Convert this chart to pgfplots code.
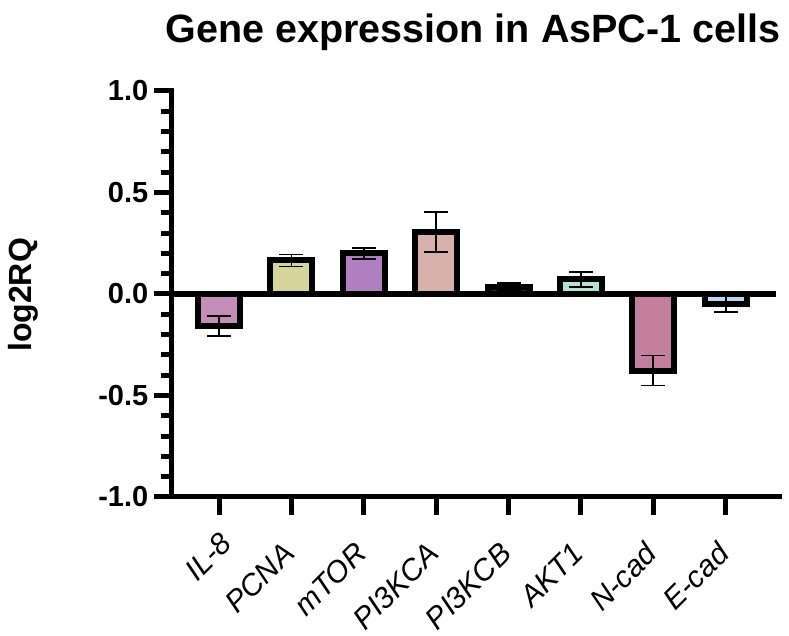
\documentclass[border=0pt]{standalone}
\usepackage{pgfplots}
\pgfplotsset{compat=1.18}
\usepackage{fontspec}
\setmainfont{Liberation Sans}
\definecolor{cIL}{RGB}{196,140,185}
\definecolor{cPCNA}{RGB}{213,213,155}
\definecolor{cmTOR}{RGB}{176,127,192}
\definecolor{cPIA}{RGB}{216,176,172}
\definecolor{cPIB}{RGB}{40,40,40}
\definecolor{cAKT}{RGB}{180,228,208}
\definecolor{cN}{RGB}{196,126,158}
\definecolor{cE}{RGB}{190,215,240}
\begin{document}
\begin{tikzpicture}[x=1pt,y=1pt]
\useasboundingbox (0,0) rectangle (789,636);
\begin{axis}[
  at={(171pt,139pt)}, anchor=south west,
  scale only axis, width=608pt, height=406pt,
  xmin=-0.663, xmax=7.735, ymin=-1, ymax=1,
  clip=false,
  axis x line=bottom, axis y line=left,
  axis line style={-, line width=5pt, line cap=rect},
  tick align=outside,
  tick style={line width=5pt, black},
  xtick={0,...,7},
  xticklabels={IL-8\kern-14pt,PCNA,mTOR,PI3KCA,PI3KCB,AKT1,N-cad,E-cad},
  major tick length=17.5pt,
  minor y tick num=4,
  minor tick length=10pt,
  ytick={-1,-0.5,0,0.5,1},
  yticklabel style={font=\fontsize{29}{31}\selectfont\bfseries, inner sep=0pt, xshift=-5pt},
  /pgf/number format/.cd, fixed, fixed zerofill, precision=1, assume math mode=true,
  /pgfplots/.cd,
  xticklabel style={xshift=-10pt, yshift=-26pt, rotate=45, anchor=north east, font=\fontsize{30}{32}\selectfont\itshape, inner sep=0pt},
  every axis plot/.style={ybar, bar width=42pt, bar shift=0pt, draw=black, line width=6pt,
    error bars/y dir=both, error bars/y explicit,
    error bars/error bar style={line width=1.8pt, black},
    error bars/error mark options={rotate=90, mark size=12pt, line width=1.8pt, black}},
]
\addplot[fill=cIL] coordinates {(0,-0.158) +- (0,0.05)};
\addplot[fill=cPCNA] coordinates {(1,0.165) +- (0,0.03)};
\addplot[fill=cmTOR] coordinates {(2,0.20) +- (0,0.027)};
\addplot[fill=cPIA] coordinates {(3,0.305) +- (0,0.10)};
\addplot[fill=cPIB] coordinates {(4,0.033) +- (0,0.02)};
\addplot[fill=cAKT] coordinates {(5,0.072) +- (0,0.037)};
\addplot[fill=cN] coordinates {(6,-0.377) +- (0,0.074)};
\addplot[fill=cE] coordinates {(7,-0.05) +- (0,0.04)};
\draw[line width=6pt] (axis cs:-0.663,0) -- (axis cs:7.69,0);
\end{axis}
\node[anchor=base, font=\fontsize{39.5}{44}\selectfont\bfseries] at (473,593) {Gene expression in AsPC-1 cells};
\node[rotate=90, font=\fontsize{32}{34}\selectfont\bfseries] at (23,341) {log2RQ};
\end{tikzpicture}
\end{document}
